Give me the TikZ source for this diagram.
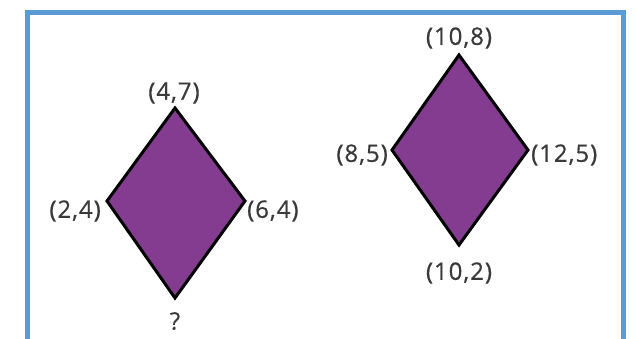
\documentclass[tikz,border=0pt]{standalone}
\usepackage{fontspec}
\setmainfont{Open Sans}
\definecolor{frameblue}{HTML}{5B9BD5}
\definecolor{kitepurple}{HTML}{843C91}
\definecolor{labelgray}{HTML}{3A3A3A}
\begin{document}
\begin{tikzpicture}[x=1pt,y=-1pt,
  kite/.style={draw=black,line width=3pt,fill=kitepurple,line join=miter},
  lbl/.style={text=labelgray,font=\fontsize{24}{28}\selectfont\addfontfeatures{LetterSpace=4,FakeBold=0.6},inner sep=0pt}]
\useasboundingbox (0,0) rectangle (636,338);
\begin{scope}
\clip (0,0) rectangle (636,338);
\draw[frameblue,line width=5pt] (27.5,345) -- (27.5,12) -- (623.5,12) -- (623.5,345);
\end{scope}
% left kite
\coordinate (A1) at (175,108);
\coordinate (A2) at (245,201);
\coordinate (A3) at (175,298);
\coordinate (A4) at (107,201);
\draw[kite] (A1) -- (A2) -- (A3) -- (A4) -- cycle;
% right kite
\coordinate (B1) at (459,55);
\coordinate (B2) at (528,150);
\coordinate (B3) at (459,245);
\coordinate (B4) at (392,150);
\draw[kite] (B1) -- (B2) -- (B3) -- (B4) -- cycle;
% labels
\node[lbl] (la1) at (174,93) {(4,7)};
\node[lbl,anchor=east] (la4) at (101,211) {(2,4)};
\node[lbl,anchor=west] (la2) at (247,211) {(6,4)};
\node[lbl] (la3) at (175,321) {?};
\node[lbl] (lb1) at (459,38) {(10,8)};
\node[lbl,anchor=east] (lb4) at (388,155) {(8,5)};
\node[lbl,anchor=west] (lb2) at (531,155) {(12,5)};
\node[lbl] (lb3) at (459,273) {(10,2)};
\end{tikzpicture}
\end{document}
